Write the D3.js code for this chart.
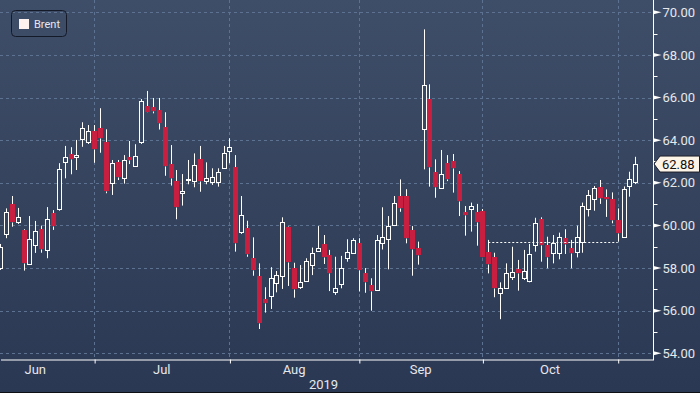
<!DOCTYPE html>
<html>
<head>
<meta charset="utf-8">
<script src="https://cdn.jsdelivr.net/npm/d3@7"></script>
<style>
    body { margin: 0; background: #fff; }
    svg { display: block; font-family: Roboto, 'Noto Sans', sans-serif; }
</style>
</head>
<body>
<div id="chart-container"></div>
<script>
// Series info
const seriesName = 'Brent'
const yearLabel = '2019'
const monthNames = ['Jan', 'Feb', 'Mar', 'Apr', 'May', 'Jun', 'Jul', 'Aug', 'Sep', 'Oct', 'Nov', 'Dec']

// Trading calendar (weekdays), first candle shown is Jun 7
const firstSession = new Date(2019, 5, 3)
const lastSession = new Date(2019, 10, 6)
const firstCandle = new Date(2019, 5, 7)

// Daily OHLC
const opens = [
    57.99, 59.58, 60.99, 60.15, 59.79, 58.18, 59.08, 59.82, 58.83, 60.57,
    60.77, 62.99, 63.34, 63.22, 64.06, 63.93, 64.44, 64.56, 63.91, 61.98,
    62.96, 62.24, 63.21, 62.80, 63.93, 65.60, 65.54, 65.41, 64.61, 62.87,
    62.10, 61.54, 62.13, 62.10, 63.12, 62.08, 62.05, 62.05, 62.68, 63.51,
    62.73, 59.71, 59.87, 58.46, 57.64, 56.53, 56.70, 57.31, 57.64, 59.91,
    57.99, 57.12, 57.41, 58.14, 58.81, 59.13, 58.61, 56.89, 57.25, 58.49,
    58.72, 59.16, 57.75, 57.20, 56.97, 59.16, 59.35, 60.02, 61.38, 61.38,
    59.77, 58.93, 64.51, 65.93, 62.52, 61.74, 62.92, 63.02, 62.41, 60.62,
    60.76, 60.61, 60.68, 58.74, 58.50, 56.82, 57.05, 57.59, 57.94, 57.52,
    57.41, 59.08, 60.29, 59.08, 58.72, 58.72, 59.40, 58.96, 58.77, 59.21,
    60.76, 61.25, 61.82, 61.33, 61.23, 60.25, 59.44, 61.85, 62.05
]
const highs = [
    59.13, 60.80, 61.38, 60.82, 59.82, 60.44, 60.21, 59.99, 60.86, 60.72,
    62.92, 63.73, 63.67, 64.01, 64.84, 64.71, 64.71, 65.50, 64.51, 63.07,
    63.07, 63.30, 63.96, 63.81, 65.93, 66.31, 65.98, 65.98, 65.31, 63.77,
    62.60, 62.41, 63.07, 63.38, 63.73, 62.96, 62.68, 62.68, 63.73, 64.09,
    63.30, 61.38, 60.22, 59.44, 58.22, 57.10, 58.04, 57.86, 60.38, 59.95,
    58.25, 58.14, 58.46, 58.96, 59.97, 59.55, 58.85, 58.53, 58.57, 59.35,
    59.40, 59.40, 58.00, 57.52, 59.55, 60.85, 60.44, 61.38, 62.16, 61.70,
    59.97, 59.24, 69.20, 66.62, 63.10, 63.54, 63.30, 63.35, 62.55, 60.91,
    61.07, 61.01, 60.77, 59.32, 58.72, 57.33, 58.22, 59.00, 58.38, 58.85,
    59.13, 60.36, 60.38, 59.47, 59.55, 59.66, 59.82, 59.32, 59.99, 61.07,
    61.66, 61.85, 62.13, 61.69, 61.55, 60.80, 61.83, 62.52, 63.22
]
const lows = [
    57.91, 59.40, 59.94, 60.07, 57.88, 58.17, 58.71, 58.72, 58.46, 59.79,
    60.69, 62.21, 62.40, 62.60, 63.69, 63.82, 62.94, 63.41, 61.51, 61.43,
    62.13, 61.96, 62.88, 62.76, 63.82, 65.29, 65.26, 64.50, 62.33, 61.87,
    60.29, 60.93, 61.93, 61.79, 61.58, 61.93, 61.90, 61.82, 62.65, 62.92,
    58.77, 59.60, 58.53, 57.64, 55.14, 55.91, 56.08, 56.86, 57.02, 57.16,
    56.61, 57.02, 57.37, 57.67, 58.77, 58.19, 56.92, 56.74, 57.05, 58.30,
    58.71, 56.90, 56.84, 56.00, 56.94, 58.87, 57.94, 59.97, 60.64, 59.16,
    57.64, 58.16, 62.63, 61.82, 61.30, 61.73, 62.08, 61.54, 60.44, 59.52,
    59.71, 59.05, 58.49, 57.75, 56.63, 55.60, 57.02, 57.44, 56.94, 57.44,
    57.33, 58.77, 58.30, 57.99, 58.22, 58.41, 58.66, 57.99, 58.50, 58.72,
    60.42, 60.69, 61.01, 60.40, 60.10, 59.24, 59.43, 61.35, 61.94
]
const closes = [
    59.00, 60.62, 60.15, 60.40, 58.22, 59.35, 59.74, 58.91, 60.29, 59.99,
    62.65, 63.20, 63.12, 63.30, 64.56, 64.44, 63.57, 64.09, 61.63, 62.92,
    62.25, 63.06, 63.07, 63.26, 65.84, 65.34, 65.38, 64.79, 62.79, 62.21,
    60.85, 61.62, 62.16, 62.82, 62.10, 62.23, 62.27, 62.49, 63.38, 63.70,
    59.16, 60.49, 58.66, 57.91, 55.44, 56.37, 57.52, 57.67, 60.15, 58.30,
    57.00, 57.33, 58.33, 58.69, 58.93, 58.53, 57.75, 57.05, 58.02, 58.74,
    59.32, 57.91, 57.33, 56.94, 59.32, 59.48, 59.96, 61.04, 60.82, 59.39,
    58.88, 58.61, 66.58, 62.76, 61.82, 62.40, 62.18, 62.71, 61.15, 60.50,
    60.90, 60.17, 58.50, 58.18, 57.05, 57.05, 57.75, 57.83, 57.75, 57.86,
    58.65, 60.13, 59.08, 58.53, 59.16, 59.47, 59.11, 58.69, 59.44, 60.91,
    61.43, 61.74, 61.27, 61.23, 60.24, 59.63, 61.69, 62.16, 62.88
]

// Dotted level line and last price marker
const refLevel = 59.20
const refFrom = new Date(2019, 9, 2)
const refTo = new Date(2019, 10, 1)
const lastPrice = 62.88

// Axis settings
const yDomain = [54, 70]
const yMajorStep = 2

class CandlePlotter {
    constructor(options) {
        this.width = options.width
        this.height = options.height
        this.plotRight = options.plotRight
        this.plotBottom = options.plotBottom

        this.upColor = '#ffffff'
        this.downColor = '#c81f40'
        this.gridColor = '#5c7290'
        this.textColor = '#e6e8ec'

        this.sessions = d3.timeDay.range(firstSession, d3.timeDay.offset(lastSession, 1))
            .filter(d => d.getDay() !== 0 && d.getDay() !== 6)
        this.offset = this.#sessionIndex(firstCandle)
        this.candles = opens.map((o, i) => ({
            i: i + this.offset, open: o, high: highs[i], low: lows[i], close: closes[i]
        }))

        this.#createScales()
        this.#createSvg()
    }

    plot() {
        this.#drawBackground()
        this.#drawGrid()
        this.#drawCandles()
        this.#drawRefLine()
        this.#drawXAxis()
        this.#drawYAxis()
        this.#drawLastPrice()
        this.#drawLegend()
    }

    #sessionIndex(date) {
        return this.sessions.findIndex(d => +d === +date)
    }

    #createScales() {
        // three empty sessions are left before the price axis
        this.xScale = d3.scaleLinear()
            .domain([this.offset, this.sessions.length - 1 + 3])
            .range([0, this.plotRight])
        this.yScale = d3.scaleLinear()
            .domain(yDomain)
            .range([353.3, 12.3])

        // first session of every month
        this.monthStarts = this.sessions
            .map((d, i) => ({ date: d, i: i }))
            .filter((d, k, arr) => k === 0 || d.date.getMonth() !== arr[k - 1].date.getMonth())
    }

    #createSvg() {
        this.svg = d3.select('#chart-container')
            .append('svg')
            .attr('width', this.width)
            .attr('height', this.height)

        const defs = this.svg.append('defs')
        const grad = defs.append('linearGradient')
            .attr('id', 'bg')
            .attr('gradientUnits', 'userSpaceOnUse')
            .attr('x1', 0).attr('y1', 0)
            .attr('x2', 0).attr('y2', 392)
        grad.append('stop').attr('offset', 0).attr('stop-color', '#3f4e68')
        grad.append('stop').attr('offset', 1).attr('stop-color', '#2b3853')

        defs.append('clipPath')
            .attr('id', 'plot-clip')
            .append('rect')
            .attr('x', 0).attr('y', 0)
            .attr('width', this.plotRight)
            .attr('height', this.plotBottom)
    }

    #drawBackground() {
        this.svg.append('rect')
            .attr('width', this.width)
            .attr('height', 392)
            .attr('fill', 'url(#bg)')
        this.svg.append('rect')
            .attr('y', 392)
            .attr('width', this.width)
            .attr('height', 1)
            .attr('fill', '#0d0f14')
    }

    #drawGrid() {
        const grid = this.svg.append('g').attr('clip-path', 'url(#plot-clip)')
        const majors = d3.range(yDomain[0], yDomain[1] + 0.001, yMajorStep)

        grid.selectAll('.hgrid')
            .data(majors)
            .enter()
            .append('line')
            .attr('class', 'hgrid')
            .attr('x1', 0)
            .attr('x2', this.plotRight)
            .attr('y1', d => Math.round(this.yScale(d)) + 0.5)
            .attr('y2', d => Math.round(this.yScale(d)) + 0.5)
            .attr('stroke', this.gridColor)
            .attr('stroke-dasharray', '3,3')

        grid.selectAll('.vgrid')
            .data(this.monthStarts)
            .enter()
            .append('line')
            .attr('class', 'vgrid')
            .attr('x1', d => Math.round(this.xScale(d.i)) + 0.5)
            .attr('x2', d => Math.round(this.xScale(d.i)) + 0.5)
            .attr('y1', 0)
            .attr('y2', this.plotBottom)
            .attr('stroke', this.gridColor)
            .attr('stroke-dasharray', '3,3')
    }

    #drawCandles() {
        const g = this.svg.append('g').attr('clip-path', 'url(#plot-clip)')
        const px = d => Math.round(this.xScale(d.i)) + 0.5
        const top = d => Math.round(this.yScale(Math.max(d.open, d.close))) + 0.5
        const bottom = d => Math.round(this.yScale(Math.min(d.open, d.close))) + 0.5
        const isUp = d => d.close >= d.open

        const candle = g.selectAll('.candle')
            .data(this.candles)
            .enter()
            .append('g')
            .attr('class', 'candle')

        // wicks drawn outside the body so hollow candles stay hollow
        candle.append('line')
            .attr('x1', px).attr('x2', px)
            .attr('y1', d => this.yScale(d.high))
            .attr('y2', top)
            .attr('stroke', '#fff')
        candle.append('line')
            .attr('x1', px).attr('x2', px)
            .attr('y1', bottom)
            .attr('y2', d => this.yScale(d.low))
            .attr('stroke', '#fff')

        candle.append('rect')
            .attr('x', d => isUp(d) ? px(d) - 2 : px(d) - 2.5)
            .attr('y', d => isUp(d) ? top(d) : top(d) - 0.5)
            .attr('width', d => isUp(d) ? 4 : 5)
            .attr('height', d => Math.max(1, bottom(d) - top(d)))
            .attr('fill', d => isUp(d) ? 'url(#bg)' : this.downColor)
            .attr('stroke', d => isUp(d) ? this.upColor : 'none')
    }

    #drawRefLine() {
        const y = Math.round(this.yScale(refLevel)) + 0.5
        this.svg.append('line')
            .attr('x1', this.xScale(this.#sessionIndex(refFrom)))
            .attr('x2', this.xScale(this.#sessionIndex(refTo)))
            .attr('y1', y)
            .attr('y2', y)
            .attr('stroke', '#fff')
            .attr('stroke-dasharray', '2,2')
    }

    #drawXAxis() {
        const xAxis = d3.axisBottom(this.xScale)
            .tickValues(this.monthStarts.map(d => d.i).filter(i => this.xScale(i) >= 0))
            .tickFormat('')
            .tickSize(4)
            .tickSizeOuter(0)
        const g = this.svg.append('g')
            .attr('transform', 'translate(0.5, ' + (this.plotBottom + 0.5) + ')')
            .call(xAxis)
        g.selectAll('path, line').attr('stroke', '#fff')

        // month names sit in the middle of each month
        const spans = this.monthStarts.slice(0, -1).map((d, k) => ({
            label: monthNames[d.date.getMonth()],
            mid: (this.xScale(d.i) + this.xScale(this.monthStarts[k + 1].i)) / 2
        }))
        this.svg.selectAll('.month-label')
            .data(spans)
            .enter()
            .append('text')
            .attr('class', 'month-label')
            .attr('x', d => d.mid)
            .attr('y', this.plotBottom + 15)
            .attr('text-anchor', 'middle')
            .attr('fill', this.textColor)
            .style('font-size', '13px')
            .text(d => d.label)

        this.svg.append('text')
            .attr('x', this.plotRight / 2 - 3)
            .attr('y', this.plotBottom + 30)
            .attr('text-anchor', 'middle')
            .attr('fill', this.textColor)
            .style('font-size', '13px')
            .text(yearLabel)
    }

    #drawYAxis() {
        const x0 = this.plotRight + 0.5
        const majors = d3.range(yDomain[0], yDomain[1] + 0.001, yMajorStep)
        const minors = d3.range(yDomain[0] + yMajorStep / 2, yDomain[1], yMajorStep)

        this.svg.append('line')
            .attr('x1', x0).attr('x2', x0)
            .attr('y1', 0).attr('y2', this.plotBottom + 1)
            .attr('stroke', '#fff')

        this.svg.selectAll('.minor-tick')
            .data(minors)
            .enter()
            .append('line')
            .attr('class', 'minor-tick')
            .attr('x1', x0)
            .attr('x2', x0 + 4)
            .attr('y1', d => Math.round(this.yScale(d)) + 0.5)
            .attr('y2', d => Math.round(this.yScale(d)) + 0.5)
            .attr('stroke', '#fff')

        this.svg.selectAll('.major-tick')
            .data(majors)
            .enter()
            .append('path')
            .attr('class', 'major-tick')
            .attr('d', d => {
                const y = this.yScale(d)
                return 'M' + x0 + ',' + (y - 2) + 'L' + (x0 + 8) + ',' + y + 'L' + x0 + ',' + (y + 2) + 'Z'
            })
            .attr('fill', '#fff')

        this.svg.selectAll('.y-label')
            .data(majors)
            .enter()
            .append('text')
            .attr('class', 'y-label')
            .attr('x', x0 + 9)
            .attr('y', d => this.yScale(d))
            .attr('dy', '0.36em')
            .attr('fill', this.textColor)
            .style('font-size', '13px')
            .text(d3.format('.2f'))
    }

    #drawLastPrice() {
        const y = this.yScale(lastPrice)
        const x0 = this.plotRight + 1
        this.svg.append('path')
            .attr('d', 'M' + x0 + ',' + y + 'L' + (x0 + 6) + ',' + (y - 8) + 'L' + (this.width - 0.5) + ',' + (y - 8) +
                'L' + (this.width - 0.5) + ',' + (y + 8) + 'L' + (x0 + 6) + ',' + (y + 8) + 'Z')
            .attr('fill', '#fdf4e8')
            .attr('stroke', '#1b1f29')
        this.svg.append('text')
            .attr('x', x0 + 8)
            .attr('y', y)
            .attr('dy', '0.36em')
            .attr('fill', '#111')
            .style('font-size', '13px')
            .text(d3.format('.2f')(lastPrice))
    }

    #drawLegend() {
        const legend = this.svg.append('g')
        legend.append('rect')
            .attr('x', 11.5).attr('y', 10.5)
            .attr('width', 55).attr('height', 26)
            .attr('rx', 4)
            .attr('fill', 'none')
            .attr('stroke', '#141a28')
        legend.append('rect')
            .attr('x', 19).attr('y', 19)
            .attr('width', 10).attr('height', 10)
            .attr('fill', '#fff2ee')
        legend.append('text')
            .attr('x', 34).attr('y', 28)
            .attr('fill', this.textColor)
            .style('font-size', '11px')
            .text(seriesName)
    }
}

new CandlePlotter({ width: 700, height: 395, plotRight: 653, plotBottom: 359 }).plot()
</script>
</body>
</html>
